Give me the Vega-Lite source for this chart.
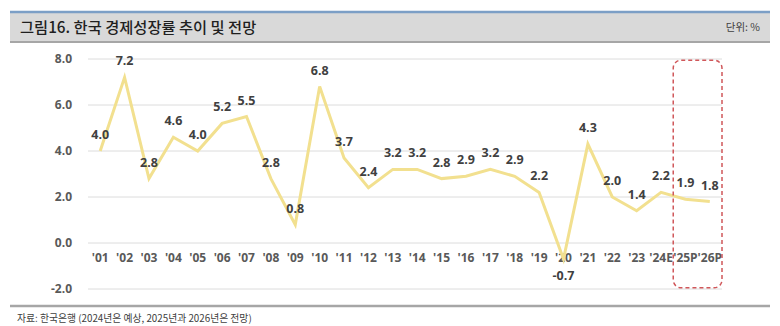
{
  "$schema": "https://vega.github.io/schema/vega-lite/v6.json",
  "padding": {"left": 8, "top": 10, "right": 0, "bottom": 0},
  "spacing": 17,
  "bounds": "flush",
  "config": {
    "view": {"stroke": null},
    "font": "Open Sans",
    "locale": {"number": {"decimal": ".", "thousands": ",", "grouping": [3], "currency": ["", ""], "minus": "-"}}
  },
  "datasets": {
    "growth": [
      {"year": "'01", "value": 4.0},
      {"year": "'02", "value": 7.2},
      {"year": "'03", "value": 2.8},
      {"year": "'04", "value": 4.6},
      {"year": "'05", "value": 4.0},
      {"year": "'06", "value": 5.2},
      {"year": "'07", "value": 5.5},
      {"year": "'08", "value": 2.8},
      {"year": "'09", "value": 0.8},
      {"year": "'10", "value": 6.8},
      {"year": "'11", "value": 3.7},
      {"year": "'12", "value": 2.4},
      {"year": "'13", "value": 3.2},
      {"year": "'14", "value": 3.2},
      {"year": "'15", "value": 2.8},
      {"year": "'16", "value": 2.9},
      {"year": "'17", "value": 3.2},
      {"year": "'18", "value": 2.9},
      {"year": "'19", "value": 2.2},
      {"year": "'20", "value": -0.7},
      {"year": "'21", "value": 4.3},
      {"year": "'22", "value": 2.0},
      {"year": "'23", "value": 1.4},
      {"year": "'24E", "value": 2.2},
      {"year": "'25P", "value": 1.9},
      {"year": "'26P", "value": 1.8}
    ],
    "ticks": [
      {"tick": -2, "from": "'01", "to": "'26P"},
      {"tick": 0, "from": "'01", "to": "'26P"},
      {"tick": 2, "from": "'01", "to": "'26P"},
      {"tick": 4, "from": "'01", "to": "'26P"},
      {"tick": 6, "from": "'01", "to": "'26P"},
      {"tick": 8, "from": "'01", "to": "'26P"}
    ]
  },
  "vconcat": [
    {
      "width": 760,
      "height": 30,
      "view": {"fill": "#d9d9d9", "stroke": null},
      "data": {"values": [{"title": "그림16. 한국 경제성장률 추이 및 전망", "unit": "단위: %", "left": 0, "right": 1, "mid": 0.5, "top": 1, "bottom": 0}]},
      "layer": [
        {
          "mark": {"type": "rule", "color": "#7c9fc6", "strokeWidth": 2.5},
          "encoding": {"y": {"field": "top", "type": "quantitative", "scale": {"domain": [0, 1]}, "axis": null}}
        },
        {
          "mark": {"type": "rule", "color": "#a6a6a6", "strokeWidth": 2},
          "encoding": {"y": {"field": "bottom", "type": "quantitative", "scale": {"domain": [0, 1]}, "axis": null}}
        },
        {
          "mark": {"type": "text", "align": "left", "baseline": "middle", "dx": 10, "dy": 1, "font": "Noto Sans CJK KR", "fontSize": 15.3, "fontWeight": 500, "color": "#1f1f1f"},
          "encoding": {
            "x": {"field": "left", "type": "quantitative", "scale": {"domain": [0, 1]}, "axis": null},
            "y": {"field": "mid", "type": "quantitative", "scale": {"domain": [0, 1]}, "axis": null},
            "text": {"field": "title"}
          }
        },
        {
          "mark": {"type": "text", "align": "right", "baseline": "middle", "dx": -10, "dy": 1, "font": "Noto Sans CJK KR", "fontSize": 10.5, "color": "#404040"},
          "encoding": {
            "x": {"field": "right", "type": "quantitative", "scale": {"domain": [0, 1]}, "axis": null},
            "y": {"field": "mid", "type": "quantitative", "scale": {"domain": [0, 1]}, "axis": null},
            "text": {"field": "unit"}
          }
        }
      ]
    },
    {
      "width": 760,
      "height": 230,
      "encoding": {
        "x": {
          "field": "year", "type": "nominal", "sort": null,
          "scale": {"type": "band", "paddingInner": 0, "paddingOuter": 0, "range": [78, 712],
            "domain": ["'01", "'02", "'03", "'04", "'05", "'06", "'07", "'08", "'09", "'10", "'11", "'12", "'13", "'14", "'15", "'16", "'17", "'18", "'19", "'20", "'21", "'22", "'23", "'24E", "'25P", "'26P"]},
          "axis": {"orient": "bottom", "offset": -46, "title": null, "domain": false, "ticks": false, "labelAngle": 0, "labelPadding": 9, "labelFontSize": 12, "labelFontWeight": "bold", "labelColor": "#595959", "labelFont": "Open Sans", "grid": false}
        }
      },
      "layer": [
        {
          "data": {"name": "ticks"},
          "mark": {"type": "rule", "color": "#dcdcdc", "strokeWidth": 1},
          "encoding": {
            "x": {"field": "from", "type": "nominal", "sort": null, "bandPosition": 0},
            "x2": {"field": "to", "bandPosition": 1},
            "y": {"field": "tick", "type": "quantitative", "scale": {"domain": [-2, 8], "nice": false, "zero": false}, "axis": null}
          }
        },
        {
          "data": {"name": "ticks"},
          "mark": {"type": "text", "align": "right", "baseline": "middle", "dx": -16, "fontSize": 12, "fontWeight": "bold", "color": "#595959", "font": "Open Sans"},
          "encoding": {
            "x": {"field": "from", "type": "nominal", "sort": null, "bandPosition": 0},
            "y": {"field": "tick", "type": "quantitative"},
            "text": {"field": "tick", "type": "quantitative", "format": ".1f"}
          }
        },
        {
          "data": {"name": "growth"},
          "mark": {"type": "line", "color": "#f2e08f", "strokeWidth": 3},
          "encoding": {
            "y": {"field": "value", "type": "quantitative"}
          }
        },
        {
          "data": {"name": "growth"},
          "transform": [{"filter": "datum.value >= 0"}],
          "mark": {"type": "text", "dy": -16, "fontSize": 12.5, "fontWeight": "bold", "color": "#404040", "font": "Open Sans"},
          "encoding": {
            "y": {"field": "value", "type": "quantitative"},
            "text": {"field": "value", "type": "quantitative", "format": ".1f"}
          }
        },
        {
          "data": {"name": "growth"},
          "transform": [{"filter": "datum.value < 0"}],
          "mark": {"type": "text", "dy": 17, "fontSize": 12.5, "fontWeight": "bold", "color": "#404040", "font": "Open Sans"},
          "encoding": {
            "y": {"field": "value", "type": "quantitative"},
            "text": {"field": "value", "type": "quantitative", "format": ".1f"}
          }
        },
        {
          "data": {"values": [{"from": "'25P", "to": "'26P", "top": 7.95, "bottom": -1.95}]},
          "mark": {"type": "rect", "fill": null, "fillOpacity": 0, "stroke": "#d0575a", "strokeWidth": 1.5, "strokeDash": [4, 3], "cornerRadius": 8},
          "encoding": {
            "x": {"field": "from", "type": "nominal", "sort": null, "bandPosition": 0},
            "x2": {"field": "to", "bandPosition": 1},
            "y": {"field": "top", "type": "quantitative"},
            "y2": {"field": "bottom"}
          }
        }
      ]
    },
    {
      "width": 760,
      "height": 22,
      "data": {"values": [{"source": "자료: 한국은행 (2024년은 예상, 2025년과 2026년은 전망)", "left": 0, "top": 1, "mid": 0.4}]},
      "layer": [
        {
          "mark": {"type": "rule", "color": "#a6a6a6", "strokeWidth": 2.5},
          "encoding": {"y": {"field": "top", "type": "quantitative", "scale": {"domain": [0, 1]}, "axis": null}}
        },
        {
          "mark": {"type": "text", "align": "left", "baseline": "middle", "dx": 7, "font": "Noto Sans CJK KR", "fontSize": 9.8, "color": "#404040"},
          "encoding": {
            "x": {"field": "left", "type": "quantitative", "scale": {"domain": [0, 1]}, "axis": null},
            "y": {"field": "mid", "type": "quantitative", "scale": {"domain": [0, 1]}, "axis": null},
            "text": {"field": "source"}
          }
        }
      ]
    }
  ]
}
